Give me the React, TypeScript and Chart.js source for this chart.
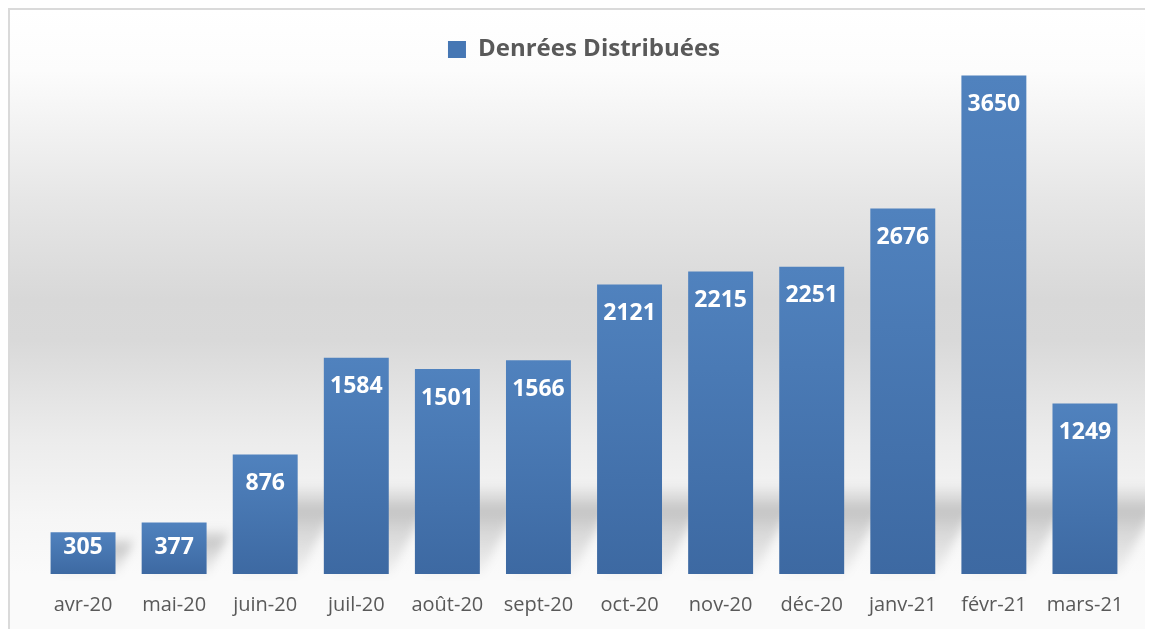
import React, { useEffect, useRef } from "react";
import { Chart, registerables } from "chart.js";

Chart.register(...registerables);

const categories = [
  "avr-20", "mai-20", "juin-20", "juil-20", "août-20", "sept-20",
  "oct-20", "nov-20", "déc-20", "janv-21", "févr-21", "mars-21",
];
const denrees = [305, 377, 876, 1584, 1501, 1566, 2121, 2215, 2251, 2676, 3650, 1249];
const seriesLabel = "Denrées Distribuées";

const shadowPlugin = {
  id: "floorShadow",
  beforeDatasetsDraw(chart: any) {
    const ctx = chart.ctx;
    const meta = chart.getDatasetMeta(0);
    ctx.save();
    ctx.filter = "blur(5px)";
    meta.data.forEach((bar: any) => {
      const w = bar.width;
      const h = bar.base - bar.y;
      const sh = Math.min(h, 100) * 0.9;
      const dx = sh * 0.55;
      const left = bar.x - w / 2;
      const g = ctx.createLinearGradient(0, bar.base, 0, bar.base - sh);
      g.addColorStop(0, "rgba(0,0,0,0.03)");
      g.addColorStop(0.45, "rgba(0,0,0,0.12)");
      g.addColorStop(0.7, "rgba(0,0,0,0.2)");
      g.addColorStop(1, "rgba(0,0,0,0)");
      ctx.fillStyle = g;
      ctx.beginPath();
      ctx.moveTo(left + 6, bar.base);
      ctx.lineTo(left + w + 2, bar.base);
      ctx.lineTo(left + w + dx, bar.base - sh);
      ctx.lineTo(left + dx + 6, bar.base - sh);
      ctx.closePath();
      ctx.fill();
    });
    ctx.restore();
  },
};

const labelPlugin = {
  id: "barValues",
  afterDatasetsDraw(chart: any) {
    const ctx = chart.ctx;
    const meta = chart.getDatasetMeta(0);
    const data = chart.data.datasets[0].data;
    ctx.save();
    ctx.fillStyle = "#ffffff";
    ctx.font = "bold 23px 'Open Sans'";
    ctx.textAlign = "center";
    ctx.textBaseline = "middle";
    meta.data.forEach((bar: any, i: number) => {
      const cy = Math.min(bar.y + 29, bar.base - 27);
      ctx.fillText(String(data[i]), bar.x, cy);
    });
    ctx.restore();
  },
};

export default function App() {
  const ref = useRef<HTMLCanvasElement>(null);

  useEffect(() => {
    if (!ref.current) return;
    const chart = new Chart(ref.current, {
      type: "bar",
      data: {
        labels: categories,
        datasets: [
          {
            label: seriesLabel,
            data: denrees,
            backgroundColor: (c: any) => {
              const ch = c.chart;
              if (!ch.chartArea || !ch.scales || !ch.scales.y || c.type !== "data") return "#4677b4";
              const y = ch.scales.y;
              const top = y.getPixelForValue(c.raw);
              const base = y.getPixelForValue(0);
              if (!isFinite(top) || !isFinite(base) || top === base) return "#4677b4";
              const g = ch.ctx.createLinearGradient(0, top, 0, base);
              g.addColorStop(0, "#5082be");
              g.addColorStop(1, "#3d69a2");
              return g;
            },
            borderWidth: 0,
            categoryPercentage: 1,
            barPercentage: 0.713,
          },
        ],
      },
      options: {
        animation: false,
        responsive: false,
        maintainAspectRatio: false,
        layout: { padding: { left: 27.5, right: 22.5, top: 17.5, bottom: -7 } },
        plugins: {
          tooltip: { enabled: false },
          legend: {
            display: true,
            position: "top",
            labels: {
              color: "#595959",
              font: { family: "'Open Sans'", size: 24, weight: "bold" },
              boxWidth: 18,
              boxHeight: 17,
              padding: 10,
              generateLabels: () => [
                {
                  text: seriesLabel,
                  fillStyle: "#4677b4",
                  strokeStyle: "#4677b4",
                  fontColor: "#595959",
                  lineWidth: 0,
                  hidden: false,
                  datasetIndex: 0,
                },
              ],
            },
          },
        },
        scales: {
          x: {
            grid: { display: false, drawTicks: false },
            border: { display: false },
            ticks: {
              color: "#595959",
              font: { family: "'Open Sans'", size: 20 },
              padding: 19,
              maxRotation: 0,
              autoSkip: false,
            },
          },
          y: {
            display: false,
            min: 0,
            max: 3680,
          },
        },
      },
      plugins: [shadowPlugin, labelPlugin],
    });
    return () => chart.destroy();
  }, []);

  return (
    <div
      style={{
        width: 1145,
        height: 621,
        boxSizing: "border-box",
        borderTop: "2px solid #dadada",
        borderLeft: "2px solid #dadada",
        background:
          "linear-gradient(to bottom, #ffffff 0px, #fcfcfc 60px, #e6e6e6 190px, #d8d8d8 290px, #d9d9d9 330px, #ececec 430px, #f6f6f6 510px, #fafafa 565px, #fafafa 621px)",
        overflow: "hidden",
      }}
    >
      <canvas ref={ref} width={1143} height={619} style={{ display: "block" }} />
    </div>
  );
}
